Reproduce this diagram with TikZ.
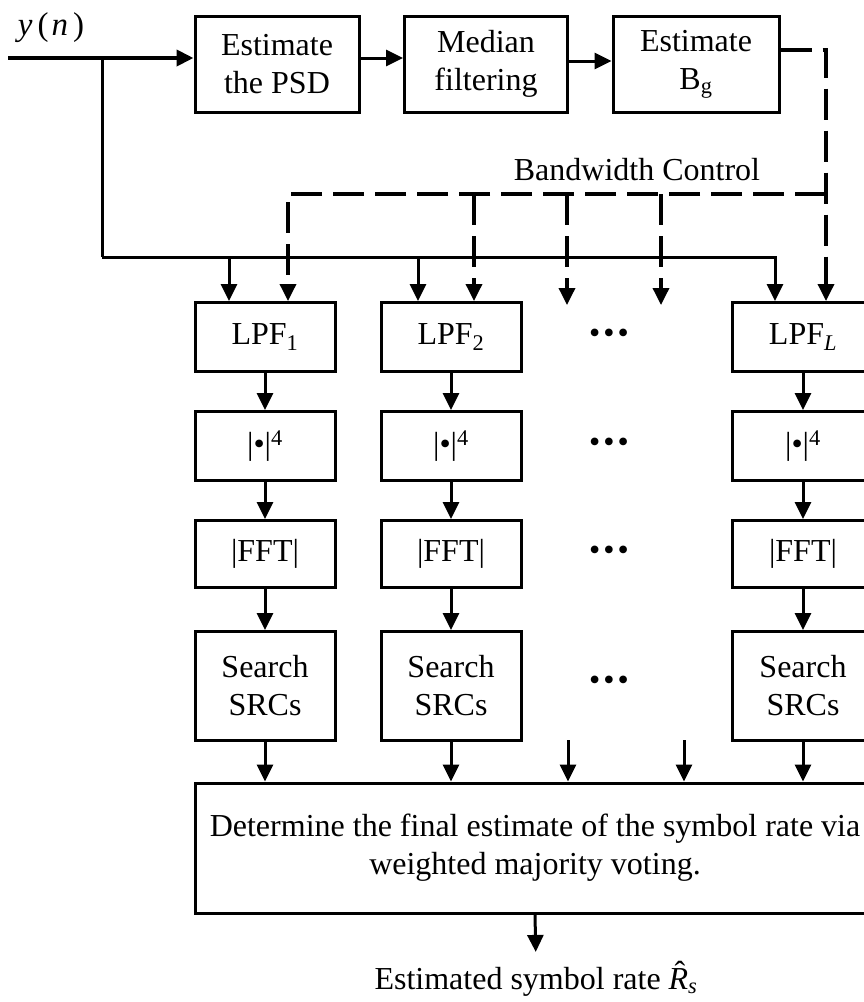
\documentclass[tikz,border=0pt]{standalone}
\usepackage{fontspec}
\setmainfont{Liberation Serif}
\usepackage{tikz}
\usetikzlibrary{arrows.meta}

\tikzset{
  blk/.style={draw, line width=3pt, align=center, inner sep=0pt},
  arr/.style={line width=3pt, -{Triangle[length=17pt,width=16pt]}},
  ctrl/.style={line width=3.5pt, dash pattern=on 31pt off 11pt, -{Triangle[length=17pt,width=16pt]}},
}

\begin{document}
\begin{tikzpicture}[x=1pt,y=-1pt,font=\fontsize{32}{38}\selectfont]
\useasboundingbox (0,0) rectangle (864,1002);
\clip (0,0) rectangle (864,1002);

\node[font=\fontsize{33}{38}\selectfont] (yn) at (51,28) {\textit{y}\kern5pt(\kern3pt\textit{n}\kern5pt)};
\coordinate (yin) at (8,58);
\coordinate (br) at (102,58);
\coordinate (bus) at (102,257);

\node[blk, minimum width=164pt, minimum height=96pt] (psd) at (277,64) {Estimate\\the PSD};
\node[blk, minimum width=163pt, minimum height=96pt] (med) at (486,64) {Median\\filtering};
\node[blk, minimum width=166pt, minimum height=96pt] (bg) at (696,64) {Estimate\\B\textsubscript{g}};

\node (bwc) at (637,170) {Bandwidth Control};
\coordinate (bwtop) at (826,50);
\coordinate (bwjoin) at (826,194);
\coordinate (fa) at (567,305);
\coordinate (fb) at (661,305);

% filter banks
\node[blk, minimum width=140pt, minimum height=69pt] (lpf1) at (265,337) {LPF\textsubscript{1}};
\node[blk, minimum width=140pt, minimum height=69pt] (lpf2) at (451,337) {LPF\textsubscript{2}};
\node[blk, minimum width=141pt, minimum height=69pt] (lpfL) at (803,337) {LPF\textsubscript{\textit{L}}};

\node[blk, minimum width=140pt, minimum height=69pt] (abs1) at (265,446) {|\textbullet|\textsuperscript{4}};
\node[blk, minimum width=140pt, minimum height=69pt] (abs2) at (451,446) {|\textbullet|\textsuperscript{4}};
\node[blk, minimum width=141pt, minimum height=69pt] (absL) at (803,446) {|\textbullet|\textsuperscript{4}};

\node[blk, minimum width=140pt, minimum height=67pt] (fft1) at (265,554) {|FFT|};
\node[blk, minimum width=140pt, minimum height=67pt] (fft2) at (451,554) {|FFT|};
\node[blk, minimum width=141pt, minimum height=67pt] (fftL) at (803,554) {|FFT|};

\node[blk, minimum width=140pt, minimum height=109pt] (src1) at (265,686) {Search\\SRCs};
\node[blk, minimum width=140pt, minimum height=109pt] (src2) at (451,686) {Search\\SRCs};
\node[blk, minimum width=141pt, minimum height=109pt] (srcL) at (803,686) {Search\\SRCs};

\node (dA) at (609,336) {\textbullet\kern3pt\textbullet\kern3pt\textbullet};
\node (dB) at (609,445) {\textbullet\kern3pt\textbullet\kern3pt\textbullet};
\node (dC) at (609,553) {\textbullet\kern3pt\textbullet\kern3pt\textbullet};
\node (dD) at (609,683) {\textbullet\kern3pt\textbullet\kern3pt\textbullet};

\coordinate (fc) at (568,740);
\coordinate (fd) at (684,740);

\node[blk, minimum width=680pt, minimum height=130pt] (fin) at (535,848) {Determine the final estimate of the symbol rate via\\weighted majority voting.};
\node (out) at (536,982) {Estimated symbol rate \ooalign{\textit{R}\cr\hidewidth\raisebox{0.2em}{\kern3pt ˆ}\hidewidth\cr}\textsubscript{\textit{s}}};

% front end
\draw[arr, line width=4pt] (yin) -- (yin -| psd.west);
\draw[arr] (yin -| psd.east) -- (yin -| med.west);
\draw[arr] ([yshift=3pt]med.east) -- ([yshift=3pt]bg.west);

% bandwidth control
\draw[ctrl] (bwtop -| bg.east) -- (bwtop) -- ([xshift=23pt]lpfL.north);
\draw[ctrl] (bwjoin) -| ([xshift=23pt]lpf1.north);
\draw[ctrl] ([xshift=23pt]lpf2.north |- bwjoin) -- ([xshift=23pt]lpf2.north);
\draw[ctrl] (fa |- bwjoin) -- (fa);
\draw[ctrl] (fb |- bwjoin) -- (fb);

% signal to the filters
\draw[line width=3pt] (br) -- (bus);
\draw[arr] (bus) -| ([xshift=-28pt]lpfL.north);
\draw[arr] ([xshift=-36pt]lpf1.north |- bus) -- ([xshift=-36pt]lpf1.north);
\draw[arr] ([xshift=-33pt]lpf2.north |- bus) -- ([xshift=-33pt]lpf2.north);

\draw[arr] (lpf1) -- (abs1);
\draw[arr] (lpf2) -- (abs2);
\draw[arr] (lpfL) -- (absL);
\draw[arr] (abs1) -- (fft1);
\draw[arr] (abs2) -- (fft2);
\draw[arr] (absL) -- (fftL);
\draw[arr] (fft1) -- (src1);
\draw[arr] (fft2) -- (src2);
\draw[arr] (fftL) -- (srcL);

\draw[arr] (src1.south) -- (src1.south |- fin.north);
\draw[arr] (src2.south) -- (src2.south |- fin.north);
\draw[arr] (srcL.south) -- (srcL.south |- fin.north);
\draw[arr] (fc) -- (fc |- fin.north);
\draw[arr] (fd) -- (fd |- fin.north);

\draw[arr, shorten >=12pt] (fin.south) -- (out.north);

\end{tikzpicture}
\end{document}
